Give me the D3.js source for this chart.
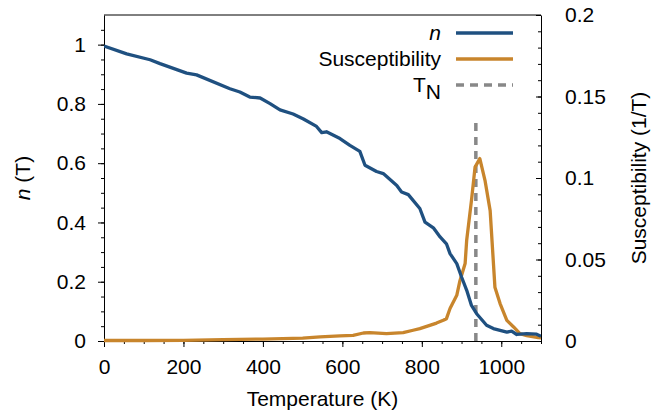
<!DOCTYPE html>
<html>
<head>
<meta charset="utf-8">
<script src="https://cdn.jsdelivr.net/npm/d3@7"></script>
<style>
  body { margin: 0; background: #fff; }
  svg text { font-family: "Liberation Sans", Arial, sans-serif; fill: #000; }
</style>
</head>
<body>
<div id="chart-area"></div>
<script>
// order parameter n(T)
var nTemp  = [0, 57, 116, 141, 208, 233, 317, 342, 367, 393, 418, 443, 476, 502, 535, 548, 560, 594, 619, 644, 657, 686, 703, 737, 749, 766, 795, 808, 829, 846, 862, 871, 888, 900, 913, 925, 938, 963, 980, 997, 1014, 1026, 1039, 1064, 1089, 1100];
var nValue = [0.995, 0.969, 0.949, 0.936, 0.904, 0.898, 0.851, 0.840, 0.823, 0.820, 0.801, 0.780, 0.766, 0.749, 0.724, 0.703, 0.706, 0.683, 0.660, 0.640, 0.593, 0.572, 0.565, 0.525, 0.503, 0.494, 0.447, 0.401, 0.382, 0.351, 0.328, 0.295, 0.261, 0.216, 0.171, 0.120, 0.092, 0.053, 0.042, 0.036, 0.030, 0.033, 0.022, 0.025, 0.023, 0.016];

// susceptibility (right axis)
var chiTemp  = [0, 100, 200, 300, 400, 500, 544, 594, 627, 653, 669, 711, 753, 778, 795, 820, 837, 854, 862, 871, 888, 896, 909, 913, 925, 934, 946, 959, 972, 984, 997, 1014, 1031, 1047, 1064, 1093, 1100];
var chiValue = [0.0003, 0.0003, 0.0004, 0.0008, 0.0012, 0.0018, 0.0025, 0.0031, 0.0035, 0.0049, 0.0051, 0.0045, 0.0051, 0.0066, 0.0076, 0.0096, 0.0110, 0.0127, 0.0137, 0.0199, 0.028, 0.037, 0.0475, 0.062, 0.0863, 0.1067, 0.1119, 0.0986, 0.080, 0.033, 0.023, 0.0127, 0.0086, 0.0045, 0.0033, 0.0021, 0.0020];

var tN = 936;        // Néel temperature
var tNTop = 0.75;    // dashed line reaches this n value

var xTicks = [0, 200, 400, 600, 800, 1000];
var nTicks = [0, 0.2, 0.4, 0.6, 0.8, 1];
var chiTicks = [0, 0.05, 0.1, 0.15, 0.2];

var blue = "#1f5080", orange = "#c8852c", grey = "#888888";
var fs = "21px";

var W = 651, H = 416;
var margin = {left: 104, right: 110, top: 15, bottom: 75};
var width = W - margin.left - margin.right;
var height = H - margin.top - margin.bottom;

var svg = d3.select("#chart-area").append("svg")
    .attr("width", W)
    .attr("height", H);
var g = svg.append("g")
    .attr("transform", "translate(" + margin.left + "," + margin.top + ")");

var x = d3.scaleLinear().domain([0, 1100]).range([0, width]);
var yN = d3.scaleLinear().domain([0, 1.1]).range([height, 0]);
var yChi = d3.scaleLinear().domain([0, 0.2]).range([height, 0]);

svg.append("defs").append("clipPath").attr("id", "clip")
  .append("rect").attr("x", 0).attr("y", -2).attr("width", width).attr("height", height + 4);

// minor ticks first
g.append("g").attr("transform", "translate(0," + height + ")")
  .call(d3.axisBottom(x).tickValues(d3.range(0, 1101, 50)).tickSize(3).tickFormat(""))
  .call(s => s.select(".domain").remove());
g.append("g")
  .call(d3.axisLeft(yN).tickValues(d3.range(0, 21.5).map(d => d * 0.05)).tickSize(3).tickFormat(""))
  .call(s => s.select(".domain").remove());
g.append("g").attr("transform", "translate(" + width + ",0)")
  .call(d3.axisRight(yChi).tickValues(d3.range(0, 21).map(d => d * 0.01)).tickSizeInner(-3).tickSizeOuter(0).tickFormat(""))
  .call(s => s.select(".domain").remove());

// major axes
var xAxis = g.append("g").attr("transform", "translate(0," + height + ")")
  .call(d3.axisBottom(x).tickValues(xTicks).tickFormat(d3.format("d")).tickSize(6).tickSizeOuter(0).tickPadding(12));
var yAxis = g.append("g")
  .call(d3.axisLeft(yN).tickValues(nTicks).tickFormat(d3.format("~g")).tickSize(6).tickSizeOuter(0).tickPadding(12));
var y2Axis = g.append("g").attr("transform", "translate(" + width + ",0)")
  .call(d3.axisRight(yChi).tickValues(chiTicks).tickFormat(d3.format("~g")).tickSizeInner(-5).tickSizeOuter(0).tickPadding(24));

svg.selectAll(".tick text").style("font-size", fs).style("font-family", "'Liberation Sans', Arial, sans-serif");
svg.selectAll(".domain, .tick line").attr("stroke", "#000");

// top frame line
g.append("line").attr("x1", 0).attr("x2", width).attr("y1", 0).attr("y2", 0)
  .attr("stroke", "#000");

var plot = g.append("g").attr("clip-path", "url(#clip)");

// T_N marker
plot.append("line")
  .attr("x1", x(tN)).attr("x2", x(tN))
  .attr("y1", yN(0)).attr("y2", yN(tNTop))
  .attr("stroke", grey).attr("stroke-width", 3.5).attr("stroke-dasharray", "8,6");

var chiLine = d3.line().x((d, i) => x(chiTemp[i])).y(d => yChi(d));
plot.append("path").datum(chiValue)
  .attr("d", chiLine)
  .attr("fill", "none").attr("stroke", orange).attr("stroke-width", 3.3)
  .attr("stroke-linejoin", "round");

var nLine = d3.line().x((d, i) => x(nTemp[i])).y(d => yN(d));
plot.append("path").datum(nValue)
  .attr("d", nLine)
  .attr("fill", "none").attr("stroke", blue).attr("stroke-width", 3.3)
  .attr("stroke-linejoin", "round");

// axis titles
svg.append("text")
  .attr("x", margin.left + width / 2).attr("y", 406)
  .attr("text-anchor", "middle").style("font-size", fs)
  .text("Temperature (K)");

var lt = svg.append("text")
  .attr("transform", "translate(30," + (margin.top + height / 2) + ") rotate(-90)")
  .attr("text-anchor", "middle").style("font-size", fs);
lt.append("tspan").style("font-style", "italic").text("n");
lt.append("tspan").text(" (T)");

svg.append("text")
  .attr("transform", "translate(646," + (margin.top + height / 2) + ") rotate(-90)")
  .attr("text-anchor", "middle").style("font-size", fs)
  .text("Susceptibility (1/T)");

// legend
var legend = svg.append("g");
var rows = [
  {label: "n", color: blue, dash: null, y: 33},
  {label: "Susceptibility", color: orange, dash: null, y: 59},
  {label: "T", sub: "N", color: grey, dash: "8,6", y: 85}
];
rows.forEach(r => {
  var t = legend.append("text")
    .attr("x", 441).attr("y", r.y).attr("dy", "0.35em")
    .attr("text-anchor", "end").style("font-size", fs);
  if (r.sub) {
    t.append("tspan").text(r.label);
    t.append("tspan").attr("dy", "0.3em").text(r.sub);
  } else if (r.label === "n") {
    t.style("font-style", "italic").text(r.label);
  } else {
    t.text(r.label);
  }
  legend.append("line")
    .attr("x1", 456).attr("x2", 513).attr("y1", r.y).attr("y2", r.y)
    .attr("stroke", r.color).attr("stroke-width", r.dash ? 3.5 : 3.3)
    .attr("stroke-dasharray", r.dash);
});
</script>
</body>
</html>
